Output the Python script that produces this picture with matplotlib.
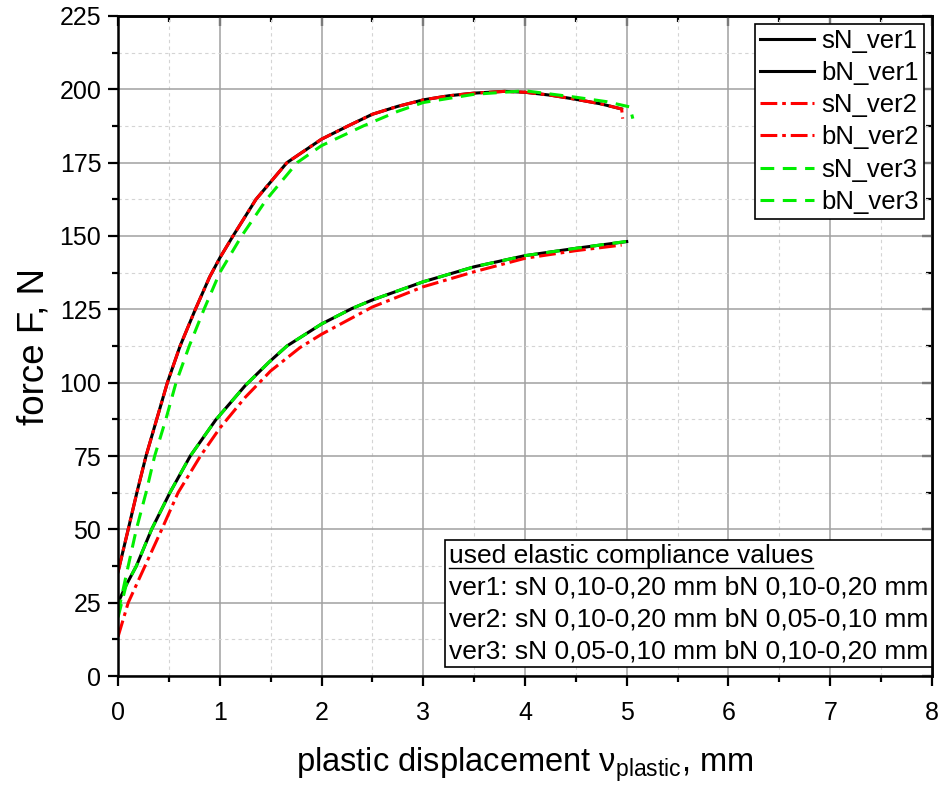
import matplotlib
matplotlib.use('Agg')
import matplotlib.pyplot as plt
from matplotlib.ticker import MultipleLocator
from matplotlib.lines import Line2D

plt.rcParams['font.family'] = ['Liberation Sans', 'DejaVu Sans']
plt.rcParams['mathtext.fontset'] = 'custom'
plt.rcParams['mathtext.rm'] = 'Liberation Sans'
plt.rcParams['mathtext.it'] = 'Liberation Sans:italic'

# sN curves (upper)
sN_v1_x = [0.0, 0.10, 0.185, 0.275, 0.38, 0.485, 0.61, 0.76, 0.9, 1.0, 1.13, 1.356, 1.66,
           2.0, 2.26, 2.5, 2.75, 3.0, 3.25, 3.5, 3.8, 4.0, 4.25, 4.5, 4.75, 4.95]
sN_v1_F = [35.5, 50, 62.5, 75, 87.5, 100, 112.5, 125, 136, 142.5, 150, 162.5, 175,
           183, 187.5, 191.5, 194.2, 196.4, 197.8, 198.7, 199.3, 199, 198, 196.6, 195, 193.3]
sN_v2_x = sN_v1_x + [4.96]
sN_v2_F = sN_v1_F + [190]
sN_v3_x = [0.0, 0.10, 0.18, 0.275, 0.36, 0.47, 0.57, 0.70, 0.845, 1.0, 1.215, 1.46, 1.76,
           2.0, 2.41, 2.75, 3.0, 3.5, 4.0, 4.5, 4.8, 5.03, 5.06]
sN_v3_F = [21.5, 37.5, 50, 62.5, 75, 87.5, 100, 112.5, 125, 137.5, 150, 162.5, 175,
           180.8, 187.5, 192.5, 195.5, 198.3, 199.5, 197.3, 195.8, 194, 190]

# bN curves (lower)
bN_v1_x = [0.0, 0.08, 0.18, 0.33, 0.51, 0.71, 0.96, 1.25, 1.49, 1.66, 2.0, 2.3, 2.5,
           3.0, 3.5, 4.0, 4.5, 5.0]
bN_v1_F = [25, 31, 37.5, 50, 62.5, 75, 87.3, 99, 107.2, 112.5, 120, 125.3, 128.2,
           134.4, 139.5, 143.3, 145.8, 148.1]
bN_v2_x = [0.0, 0.10, 0.265, 0.43, 0.59, 0.81, 1.0, 1.25, 1.5, 1.79, 2.0, 2.5,
           3.0, 3.5, 4.0, 4.5, 4.95]
bN_v2_F = [13.4, 25, 37.5, 50, 62.5, 75, 84.5, 95, 104, 112, 116.5, 125.8,
           132.7, 137.8, 142.4, 145, 146.9]
bN_v3_x = [0.0, 0.08, 0.18, 0.33, 0.51, 0.71, 0.96, 1.25, 1.49, 1.66, 2.0, 2.3, 2.5,
           3.0, 3.5, 4.0, 4.5, 5.05]
bN_v3_F = [20, 31, 37.5, 50, 62.5, 75, 87.3, 99, 107.2, 112.5, 120, 125.3, 128.2,
           134.4, 139.5, 143.3, 145.8, 148.4]

x_ticks = [0, 1, 2, 3, 4, 5, 6, 7, 8]
y_ticks = [0, 25, 50, 75, 100, 125, 150, 175, 200, 225]

info_title = 'used elastic compliance values'
info_lines = ['ver1: sN 0,10-0,20 mm bN 0,10-0,20 mm',
              'ver2: sN 0,10-0,20 mm bN 0,05-0,10 mm',
              'ver3: sN 0,05-0,10 mm bN 0,10-0,20 mm']

fig = plt.figure(figsize=(9.39, 7.87), dpi=100)
ax = fig.add_axes([0.1257, 0.141, 0.8668, 0.8387])

lw = 2.2
dashdot = (0, (5.5, 1.6, 1.2, 1.6))
dashed = (0, (4.5, 2.8))
ax.plot(sN_v1_x, sN_v1_F, color='black', lw=lw, label='sN_ver1')
ax.plot(bN_v1_x, bN_v1_F, color='black', lw=lw, label='bN_ver1')
ax.plot(sN_v2_x, sN_v2_F, color='#ff0000', lw=lw, ls=dashdot, label='sN_ver2')
ax.plot(bN_v2_x, bN_v2_F, color='#ff0000', lw=lw, ls=dashdot, label='bN_ver2')
ax.plot(sN_v3_x, sN_v3_F, color='#00ee00', lw=lw, ls=dashed, label='sN_ver3')
ax.plot(bN_v3_x, bN_v3_F, color='#00ee00', lw=lw, ls=dashed, label='bN_ver3')

ax.set_xlim(0, 8)
ax.set_ylim(0, 225)
ax.set_xticks(x_ticks)
ax.set_yticks(y_ticks)
ax.xaxis.set_minor_locator(MultipleLocator(0.5))
ax.yaxis.set_minor_locator(MultipleLocator(12.5))
ax.grid(which='major', color='#a0a0a0', lw=1.1)
ax.grid(which='minor', color='#d4d4d4', lw=0.8, ls=(0, (3, 3)))
ax.set_axisbelow(True)

ax.tick_params(which='major', direction='out', length=7, width=1.6, labelsize=18)
ax.tick_params(axis='x', which='major', pad=11)
ax.tick_params(axis='y', which='major', pad=5)
ax.tick_params(which='minor', direction='out', length=4, width=1.6)
for s in ax.spines.values():
    s.set_linewidth(1.8)

# inward ticks on top and right
top = ax.secondary_xaxis('top')
top.set_xticks(x_ticks)
top.xaxis.set_minor_locator(MultipleLocator(0.5))
top.tick_params(which='major', direction='in', length=7, width=1.6, labeltop=False)
top.tick_params(which='minor', direction='in', length=4, width=1.6)
top.spines['top'].set_linewidth(1.8)
right = ax.secondary_yaxis('right')
right.set_yticks(y_ticks)
right.yaxis.set_minor_locator(MultipleLocator(12.5))
right.tick_params(which='major', direction='in', length=7, width=1.6, labelright=False)
right.tick_params(which='minor', direction='in', length=4, width=1.6)
right.spines['right'].set_linewidth(1.8)

ax.set_xlabel(r'plastic displacement ν$_{\mathrm{plastic}}$, mm', fontsize=23.5, labelpad=15)
ax.set_ylabel('force F, N', fontsize=26.5, labelpad=6)

leg = ax.legend(loc='upper right', fontsize=18.5, frameon=True, fancybox=False,
                edgecolor='black', framealpha=1, borderaxespad=0.3,
                handlelength=2.1, handletextpad=0.3, labelspacing=0.32,
                borderpad=0.2)
leg.get_frame().set_linewidth(1.2)

txt = ax.text(0.995, 0.019, '\n'.join([info_title] + info_lines), transform=ax.transAxes,
              ha='right', va='bottom', ma='left', fontsize=19, linespacing=1.42,
              bbox=dict(boxstyle='square,pad=0.15', fc='white', ec='black', lw=1.2))

# underline the title line of the info box
fig.canvas.draw()
r = fig.canvas.get_renderer()
bb = txt.get_window_extent(r)
probe = ax.text(0, 0, info_title, fontsize=19, transform=None)
pw = probe.get_window_extent(r).width
probe.remove()
line_h = bb.height / 4
uy = bb.y1 - line_h * 0.82
fig.add_artist(Line2D([bb.x0 / fig.bbox.width, (bb.x0 + pw) / fig.bbox.width],
                      [uy / fig.bbox.height, uy / fig.bbox.height],
                      color='black', lw=1.0))

fig.savefig('out.png', dpi=100)
